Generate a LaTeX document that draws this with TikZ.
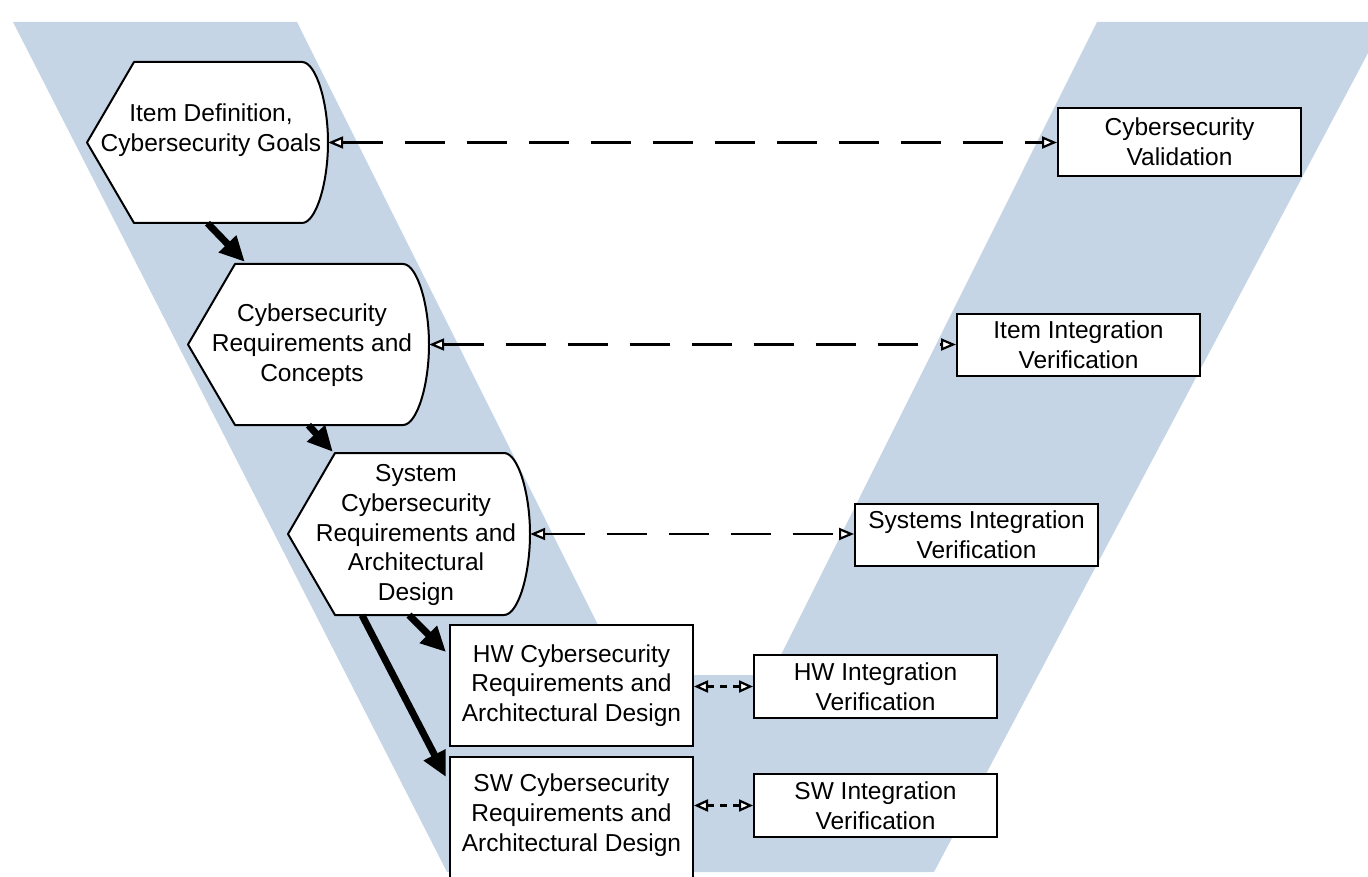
\documentclass[tikz,border=0pt]{standalone}
\usepackage{fontspec}
\setmainfont{Liberation Sans}
\usetikzlibrary{arrows.meta,calc,fit}
\definecolor{vband}{RGB}{197,213,230}

% flowchart "display" symbol: pointed left end, bulging right side
% #1 name, #2 left, #3 top, #4 right, #5 bottom
\newcommand{\dispshape}[5]{%
  \path[shapeframe] ({#2+47},#3) -- ({#4-26},#3)
    .. controls ({#4-12},#3) and (#4,{#3+40}) .. (#4,{(#3+#5)/2})
    .. controls (#4,{#5-40}) and ({#4-12},#5) .. ({#4-26},#5)
    -- ({#2+47},#5) -- (#2,{(#3+#5)/2}) -- cycle;
  \node[fit={(#2,#3) (#4,#5)}, inner sep=0pt] (#1) {};
}

\begin{document}
\begin{tikzpicture}[x=1pt, y=-1pt,
  txt/.style={font=\fontsize{24.5}{29.8}\selectfont, align=center, inner sep=0pt},
  shapeframe/.style={draw=black, line width=2pt, fill=white, line join=round},
  boxn/.style={txt, draw=black, line width=2pt, fill=white,
               minimum width=243pt},
  bigarrow/.style={line width=7pt, -{Triangle[length=25pt, width=23pt]}},
  longlink/.style={line width=2.2pt, dash pattern=on 40pt off 22pt,
     {Triangle[open, length=15pt, width=12pt, fill=white]}-{Triangle[open, length=15pt, width=12pt, fill=white]}},
  shortlink/.style={line width=2.2pt, dash pattern=on 7pt off 6pt,
     {Triangle[open, length=14pt, width=12pt, fill=white]}-{Triangle[open, length=14pt, width=12pt, fill=white]}}
]
\useasboundingbox (0,0) rectangle (1368,877);
\clip (0,0) rectangle (1368,877);

% the V band behind the diagram
\fill[vband] (13,22) -- (297,22) -- (623,675) -- (771,675) -- (1097,22)
  -- (1368,22) -- (1368,53) -- (934,872) -- (447,872) -- cycle;

% left arm: display symbols
\dispshape{h1}{87}{62}{328}{223}
\node[txt] (h1t) at (211,130) {Item Definition,\\Cybersecurity Goals};
\dispshape{h2}{188}{264}{429}{425}
\node[txt] (h2t) at (312,345) {Cybersecurity\\Requirements and\\Concepts};
\dispshape{h3}{288}{453}{530}{615}
\node[txt] (h3t) at (416,535) {System\\Cybersecurity\\Requirements and\\Architectural\\Design};

% boxes
\node[boxn, minimum height=121pt] (hw) at (571.5,685.5)
  {HW Cybersecurity\\Requirements and\\Architectural Design};
\node[boxn, minimum height=124pt, text height=0pt] (sw) at (571.5,819) {};
\node[txt] (swt) at (571.5,815)
  {SW Cybersecurity\\Requirements and\\Architectural Design};

% right arm: verification boxes
\node[boxn, minimum height=68pt] (val) at (1179.5,142) {Cybersecurity\\Validation};
\node[boxn, minimum height=62pt] (iiv) at (1078.5,345) {Item Integration\\Verification};
\node[boxn, minimum height=62pt] (siv) at (976.5,535) {Systems Integration\\Verification};
\node[boxn, minimum height=63pt] (hiv) at (875.5,686.5) {HW Integration\\Verification};
\node[boxn, minimum height=63pt] (wiv) at (875.5,805.5) {SW Integration\\Verification};

% development flow
\draw[bigarrow] (h1.south) -- ($(h2.north west)+(57,-2)$);
\draw[bigarrow] (h2.south) -- ($(h3.north west)+(45,-1)$);
\draw[bigarrow] (h3.south) -- ($(hw.north west)+(-3,28)$);
\draw[bigarrow] ($(h3.south)+(-47,0)$) -- ($(sw.north west)+(-3,21)$);

% verification links
\draw[longlink] (h1.east) -- (h1.east -| val.west);
\draw[longlink] (h2.east) -- (h2.east -| iiv.west);
\draw[longlink] (h3.east) -- (h3.east -| siv.west);
\draw[shortlink] (hw.east |- hiv.west) -- (hiv.west);
\draw[shortlink] (sw.east |- wiv.west) -- (wiv.west);
\end{tikzpicture}
\end{document}
